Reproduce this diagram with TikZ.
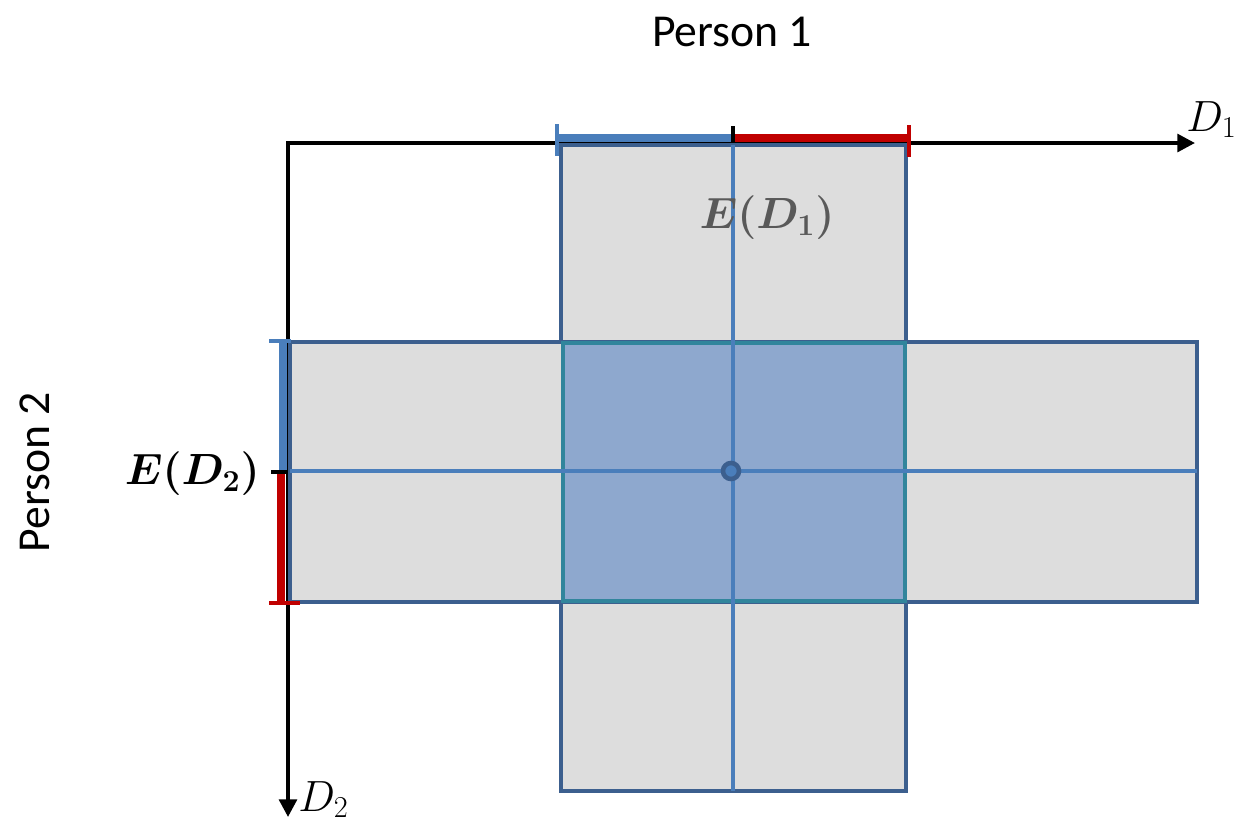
\documentclass[tikz,border=0pt]{standalone}
\usepackage{amsmath, amssymb}
\usepackage{bm}
\usepackage{fontspec}
\usetikzlibrary{arrows.meta}
\newfontfamily\calibri{Carlito}
\definecolor{rectblue}{HTML}{3C5F8E}
\definecolor{lineblue}{HTML}{4A7EBB}
\definecolor{barred}{HTML}{C00000}
\definecolor{overlapblue}{HTML}{8EA8CE}
\definecolor{overteal}{HTML}{31859C}
\definecolor{cellgray}{HTML}{DDDDDD}
\definecolor{labelgray}{HTML}{595959}

\begin{document}
\begin{tikzpicture}[
  x=0.02cm, y=-0.02cm,
  axis/.style={line width=2.2pt, -{Triangle[length=10pt,width=10pt]}},
  box/.style={draw=rectblue, line width=2.6pt, fill=cellgray},
  overlap/.style={draw=overteal, line width=2.6pt, fill=overlapblue},
  mid/.style={draw=lineblue, line width=2pt},
  bar/.style={line width=5pt},
  tick/.style={line width=2.3pt},
  title/.style={font=\calibri\fontsize{26}{30}\selectfont},
  axlabel/.style={font=\fontsize{25}{29}\selectfont, inner sep=0pt}
]
\useasboundingbox (0,0) rectangle (1234,826);

% axes
\coordinate (O) at (288,143);
\coordinate (xend) at (1195,143);
\coordinate (yend) at (288,817);
\draw[axis] ([xshift=-1.1pt]O) -- (xend);
\draw[axis] (O) -- (yend);
\node[axlabel, anchor=south west] (d1) at (1186,138) {$D_1$};
\node[axlabel, anchor=south west] (d2) at (298,818) {$D_2$};

% rectangles
\draw[box] (561,145) rectangle (906,791);
\draw[box] (290,342) rectangle (1197,602);
\draw[overlap] (563,343) rectangle (905,601);

% centre lines
\draw[mid] (733,145) -- (733,791);
\draw[mid] (290,471) -- (1197,471);
\draw[draw=rectblue, fill=lineblue, line width=2.6pt] (731,471) circle (8);

% ranges on D1
\draw[bar, lineblue] (557,138) -- (733,138);
\draw[bar, barred] (733,138) -- (909,138);
\draw[tick, lineblue] (557,124) -- (557,156);
\draw[tick, barred] (909,125) -- (909,157);
\draw[tick, black] (733,126) -- (733,142);

% ranges on D2
\draw[bar, lineblue] (283,341) -- (283,472);
\draw[bar, barred] (281,472) -- (281,603);
\draw[tick, lineblue] (269,341) -- (291,341);
\draw[tick, barred] (269,603) -- (300,603);
\draw[tick, black] (271,472) -- (287,472);

% labels
\node[title] (p1) at (732,32) {Person 1};
\node[title, rotate=90] (p2) at (35,472) {Person 2};
\node[font=\fontsize{27}{31}\selectfont, text=labelgray] (e1) at (767,218) {$\bm{E(D_1)}$};
\node[font=\fontsize{27}{31}\selectfont, anchor=east] (e2) at (266,474) {$\bm{E(D_2)}$};

\end{tikzpicture}
\end{document}
